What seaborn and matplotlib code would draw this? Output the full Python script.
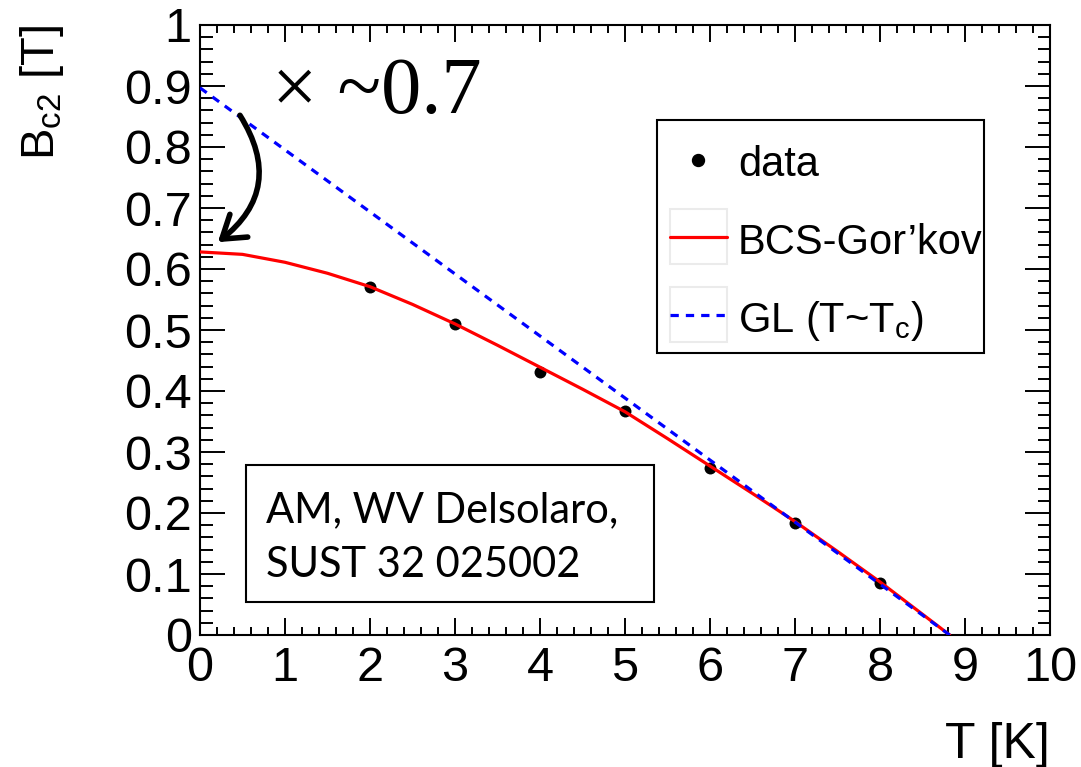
import matplotlib
matplotlib.use("Agg")
import matplotlib.pyplot as plt
import seaborn as sns
from matplotlib.patches import Rectangle, FancyArrowPatch
from matplotlib.lines import Line2D
from matplotlib.ticker import MultipleLocator, FixedLocator, FixedFormatter

# measured upper critical field
T_data = [2, 3, 4, 5, 6, 7, 8]
Bc2_data = [0.570, 0.510, 0.431, 0.367, 0.273, 0.183, 0.085]

# BCS-Gor'kov temperature dependence
T_bcs = [0.0, 0.5, 1.0, 1.5, 2.0, 2.5, 3.0, 3.5, 4.0, 4.5, 5.0, 5.5,
         6.0, 6.5, 7.0, 7.5, 8.0, 8.5, 8.82]
Bc2_bcs = [0.628, 0.624, 0.611, 0.593, 0.571, 0.542, 0.510, 0.475, 0.439,
           0.403, 0.366, 0.322, 0.277, 0.232, 0.186, 0.137, 0.087, 0.034, 0.0]

# Ginzburg-Landau linear extrapolation from Tc
T_gl = [0.0, 8.82]
Bc2_gl = [0.897, 0.0]

x_ticks = [0, 1, 2, 3, 4, 5, 6, 7, 8, 9, 10]
x_tick_labels = ["0", "1", "2", "3", "4", "5", "6", "7", "8", "9", "10"]
y_ticks = [0.0, 0.1, 0.2, 0.3, 0.4, 0.5, 0.6, 0.7, 0.8, 0.9, 1.0]
y_tick_labels = ["0", "0.1", "0.2", "0.3", "0.4", "0.5", "0.6", "0.7",
                 "0.8", "0.9", "1"]

sns.set_style("ticks")
plt.rcParams['font.family'] = ['Liberation Sans', 'DejaVu Sans']
plt.rcParams['mathtext.fontset'] = 'custom'
plt.rcParams['mathtext.rm'] = 'Liberation Sans'
plt.rcParams['mathtext.it'] = 'Liberation Sans:italic'
plt.rcParams['mathtext.bf'] = 'Liberation Sans:bold'
plt.rcParams['text.color'] = 'black'
plt.rcParams['axes.labelcolor'] = 'black'
plt.rcParams['xtick.color'] = 'black'
plt.rcParams['ytick.color'] = 'black'

W, H = 1081, 767
fig = plt.figure(figsize=(W / 100, H / 100), dpi=100)
fig.patch.set_facecolor("white")
ax = fig.add_axes([200 / W, 132 / H, 850 / W, 610 / H])
ax.set_facecolor("white")

ms = 8.6
sns.scatterplot(x=T_data, y=Bc2_data, ax=ax, color="black", s=ms ** 2,
                linewidth=0, zorder=3)
sns.lineplot(x=T_bcs, y=Bc2_bcs, ax=ax, color="red", linewidth=2.3,
             sort=False, estimator=None, zorder=4)
sns.lineplot(x=T_gl, y=Bc2_gl, ax=ax, color="blue", linewidth=2.3,
             linestyle=(0, (2.6, 2.2)), sort=False, estimator=None, zorder=5)

ax.set_xlim(0, 10)
ax.set_ylim(0, 1)
ax.xaxis.set_major_locator(FixedLocator(x_ticks))
ax.xaxis.set_major_formatter(FixedFormatter(x_tick_labels))
ax.xaxis.set_minor_locator(MultipleLocator(0.2))
ax.yaxis.set_major_locator(FixedLocator(y_ticks))
ax.yaxis.set_major_formatter(FixedFormatter(y_tick_labels))
ax.yaxis.set_minor_locator(MultipleLocator(0.02))

ax.tick_params(which="both", direction="in", top=True, right=True,
               width=1.4, color="black", labelsize=35, labelcolor="black")
ax.tick_params(axis="x", which="major", length=12, pad=8)
ax.tick_params(axis="x", which="minor", length=6)
ax.tick_params(axis="y", which="major", length=18, pad=6)
ax.tick_params(axis="y", which="minor", length=9)
for sp in ax.spines.values():
    sp.set_linewidth(1.5)
    sp.set_color("black")
    sp.set_visible(True)

ax.set_xlabel("T [K]", loc="right", fontsize=36, labelpad=22)
ax.set_ylabel(r"B$_{\mathrm{c2}}$ [T]", loc="top", fontsize=34)
ax.yaxis.set_label_coords(-0.158, 1.0)

# scaling annotation
ax.text(0.85, 0.856, "\u00d7 ~0.7", family=["Liberation Serif", "DejaVu Serif"],
        fontsize=58, va="baseline", ha="left", color="black", zorder=6)
arrow = FancyArrowPatch(posA=(0.47, 0.852), posB=(0.21, 0.644),
                        connectionstyle="arc3,rad=-0.45",
                        arrowstyle="->,head_length=0.6,head_width=0.4",
                        mutation_scale=26, lw=4.0, color="black",
                        shrinkA=0, shrinkB=0, zorder=6)
ax.add_patch(arrow)

# legend drawn as a framed panel
tA = ax.transAxes
ax.add_patch(Rectangle((0.5376, 0.4623), 0.3848, 0.382, transform=tA,
                       fill=True, facecolor="white", edgecolor="black",
                       lw=1.5, zorder=7))
for y0 in (0.608, 0.480):
    ax.add_patch(Rectangle((0.5529, y0), 0.0671, 0.09, transform=tA,
                           fill=False, edgecolor="#ebebeb", lw=1.5, zorder=8))
ax.add_line(Line2D([0.586], [0.7787], transform=tA, marker="o", ms=ms,
                   color="black", ls="none", zorder=9))
ax.add_line(Line2D([0.5529, 0.62], [0.6525, 0.6525], transform=tA,
                   color="red", lw=2.3, zorder=9))
ax.add_line(Line2D([0.5529, 0.62], [0.5246, 0.5246], transform=tA,
                   color="blue", lw=2.3, ls=(0, (2.6, 2.2)), zorder=9))
leg_fs = 30
ax.text(0.633, 0.7525, "data", transform=tA, fontsize=leg_fs,
        va="baseline", zorder=9)
ax.text(0.633, 0.6246, "BCS-Gor\u2019kov", transform=tA, fontsize=leg_fs,
        va="baseline", zorder=9)
ax.text(0.633, 0.4967, r"GL (T~T$_{\mathrm{c}}$)", transform=tA,
        fontsize=leg_fs, va="baseline", zorder=9)

# reference box
ax.add_patch(Rectangle((0.054, 0.054), 0.48, 0.225, transform=tA,
                       fill=True, facecolor="white", edgecolor="black",
                       lw=1.5, zorder=7))
ref_font = ["Lato", "DejaVu Sans"]
ax.text(0.078, 0.185, "AM, WV Delsolaro,", transform=tA,
        family=ref_font, fontsize=30, va="baseline", zorder=9)
ax.text(0.078, 0.095, "SUST 32 025002", transform=tA,
        family=ref_font, fontsize=30, va="baseline", zorder=9)

fig.savefig("out.png", dpi=100, facecolor="white")
